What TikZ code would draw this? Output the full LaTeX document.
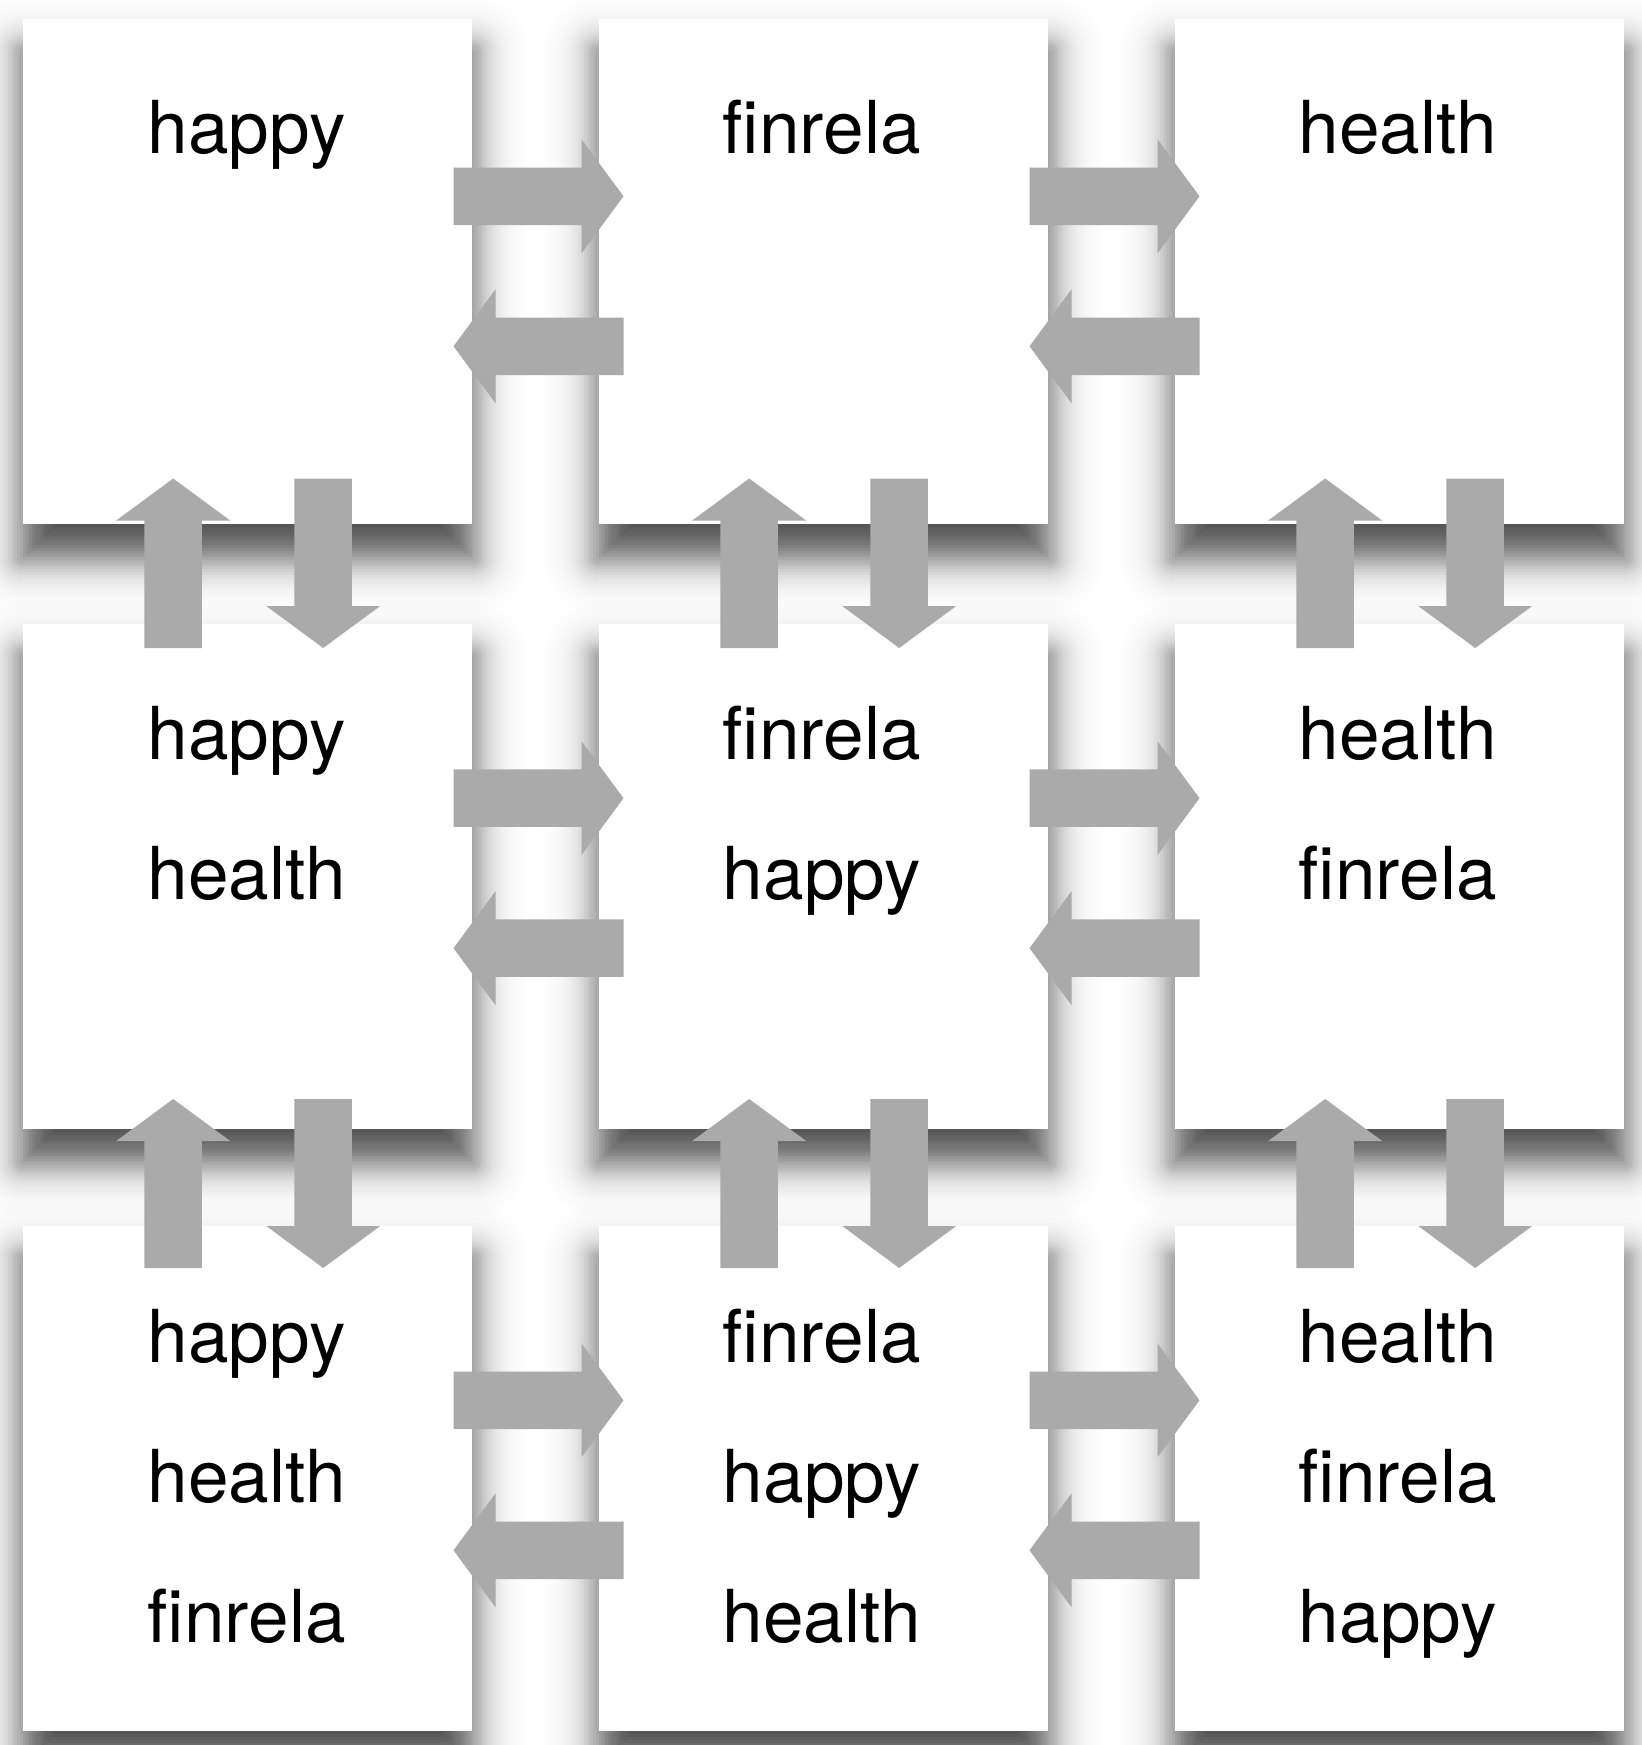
\documentclass[tikz,border=0pt]{standalone}
\usepackage{fontspec}
\setmainfont{TeX Gyre Heros}
\usetikzlibrary{calc,backgrounds}
\definecolor{agray}{HTML}{AAAAAA}
\newcommand\boxshadow[1]{%
  \foreach \k in {0,...,32}{%
    \pgfmathsetmacro\shee{-36+3*\k}%
    \pgfmathsetmacro\shta{0.68/(1+exp(1.702*(\shee-1.5)/23))}%
    \pgfmathsetmacro\shtb{0.68/(1+exp(1.702*(\shee+1.5)/23))}%
    \pgfmathsetmacro\sha{1-(1-\shta)/(1-\shtb)}%
    \pgfmathsetmacro\shrc{max(\shee,0.01)}%
    \pgfmathsetmacro\shxl{-\shee}%
    \pgfmathsetmacro\shyt{\shee-33}%
    \pgfmathsetmacro\shyb{-\shee-33}%
    \fill[black, fill opacity=\sha, rounded corners=\shrc pt]
      ($(#1.north west)+(\shxl pt,\shyt pt)$) rectangle ($(#1.south east)+(\shee pt,\shyb pt)$);
  }}
\tikzset{
  box/.style={fill=white, draw=none, minimum width=449pt, minimum height=505pt, inner sep=0pt},
  word/.style={anchor=base, inner sep=0pt, font=\fontsize{73}{88}\selectfont},
  barrow/.style={fill=agray, draw=none, to path={
    ($(\tikztotarget)!42pt!(\tikztostart)$) coordinate (bq)
    ($(\tikztostart)!28.75pt!90:(\tikztotarget)$)
    -- ($(bq)!28.75pt!90:(\tikztotarget)$)
    -- ($(bq)!57pt!90:(\tikztotarget)$)
    -- (\tikztotarget)
    -- ($(bq)!57pt!-90:(\tikztotarget)$)
    -- ($(bq)!28.75pt!-90:(\tikztotarget)$)
    -- ($(\tikztostart)!28.75pt!-90:(\tikztotarget)$)
    -- cycle}}
}
\begin{document}
\begin{tikzpicture}[x=1pt,y=-1pt]
\useasboundingbox (0,0) rectangle (1641,1745);
% boxes
\node[box] (b11) at (247.7,271.5) {};
\node[box] (b12) at (823.7,271.5) {};
\node[box] (b13) at (1399.7,271.5) {};
\node[box] (b21) at (247.7,876) {};
\node[box] (b22) at (823.7,876) {};
\node[box] (b23) at (1399.7,876) {};
\node[box] (b31) at (247.7,1478.5) {};
\node[box] (b32) at (823.7,1478.5) {};
\node[box] (b33) at (1399.7,1478.5) {};
\begin{scope}[on background layer]
  \fill[white] (0,0) rectangle (1641,1745);
  \foreach \n in {b11,b12,b13,b21,b22,b23,b31,b32,b33} {\boxshadow{\n}}
\end{scope}
% texts
\node[word] (t11a) at (246.7,153.3) {happy};
\node[word] (t12a) at (821.7,153.3) {finrela};
\node[word] (t13a) at (1397.7,153.3) {health};
\node[word] (t21a) at (246.7,759) {happy};
\node[word] (t21b) at (246.7,899) {health};
\node[word] (t22a) at (821.7,759) {finrela};
\node[word] (t22b) at (821.7,899) {happy};
\node[word] (t23a) at (1397.7,759) {health};
\node[word] (t23b) at (1397.7,899) {finrela};
\node[word] (t31a) at (246.7,1362.7) {happy};
\node[word] (t31b) at (246.7,1502.7) {health};
\node[word] (t31c) at (246.7,1642.7) {finrela};
\node[word] (t32a) at (821.7,1362.7) {finrela};
\node[word] (t32b) at (821.7,1502.7) {happy};
\node[word] (t32c) at (821.7,1642.7) {health};
\node[word] (t33a) at (1397.7,1362.7) {health};
\node[word] (t33b) at (1397.7,1502.7) {finrela};
\node[word] (t33c) at (1397.7,1642.7) {happy};
% horizontal arrows
\foreach \r/\yr in {1/196.3, 2/798.2, 3/1400.3}{
  \foreach \g in {1,2}{
    \pgfmathsetmacro\xa{453.5+576*(\g-1)}
    \pgfmathsetmacro\xb{623.5+576*(\g-1)}
    \pgfmathsetmacro\yl{\yr+150}
    \coordinate (hr\r\g a) at (\xa,\yr);
    \coordinate (hr\r\g b) at (\xb,\yr);
    \coordinate (hl\r\g a) at (\xb,\yl);
    \coordinate (hl\r\g b) at (\xa,\yl);
    \path[barrow] (hr\r\g a) to (hr\r\g b);
    \path[barrow] (hl\r\g a) to (hl\r\g b);
  }
}
% vertical arrows
\foreach \v/\ya/\yb in {1/478.5/648, 2/1099/1268}{
  \foreach \c in {1,2,3}{
    \pgfmathsetmacro\xu{173.2+576*(\c-1)}
    \pgfmathsetmacro\xd{323.2+576*(\c-1)}
    \coordinate (vu\v\c a) at (\xu,\yb);
    \coordinate (vu\v\c b) at (\xu,\ya);
    \coordinate (vd\v\c a) at (\xd,\ya);
    \coordinate (vd\v\c b) at (\xd,\yb);
    \path[barrow] (vu\v\c a) to (vu\v\c b);
    \path[barrow] (vd\v\c a) to (vd\v\c b);
  }
}
\end{tikzpicture}
\end{document}
